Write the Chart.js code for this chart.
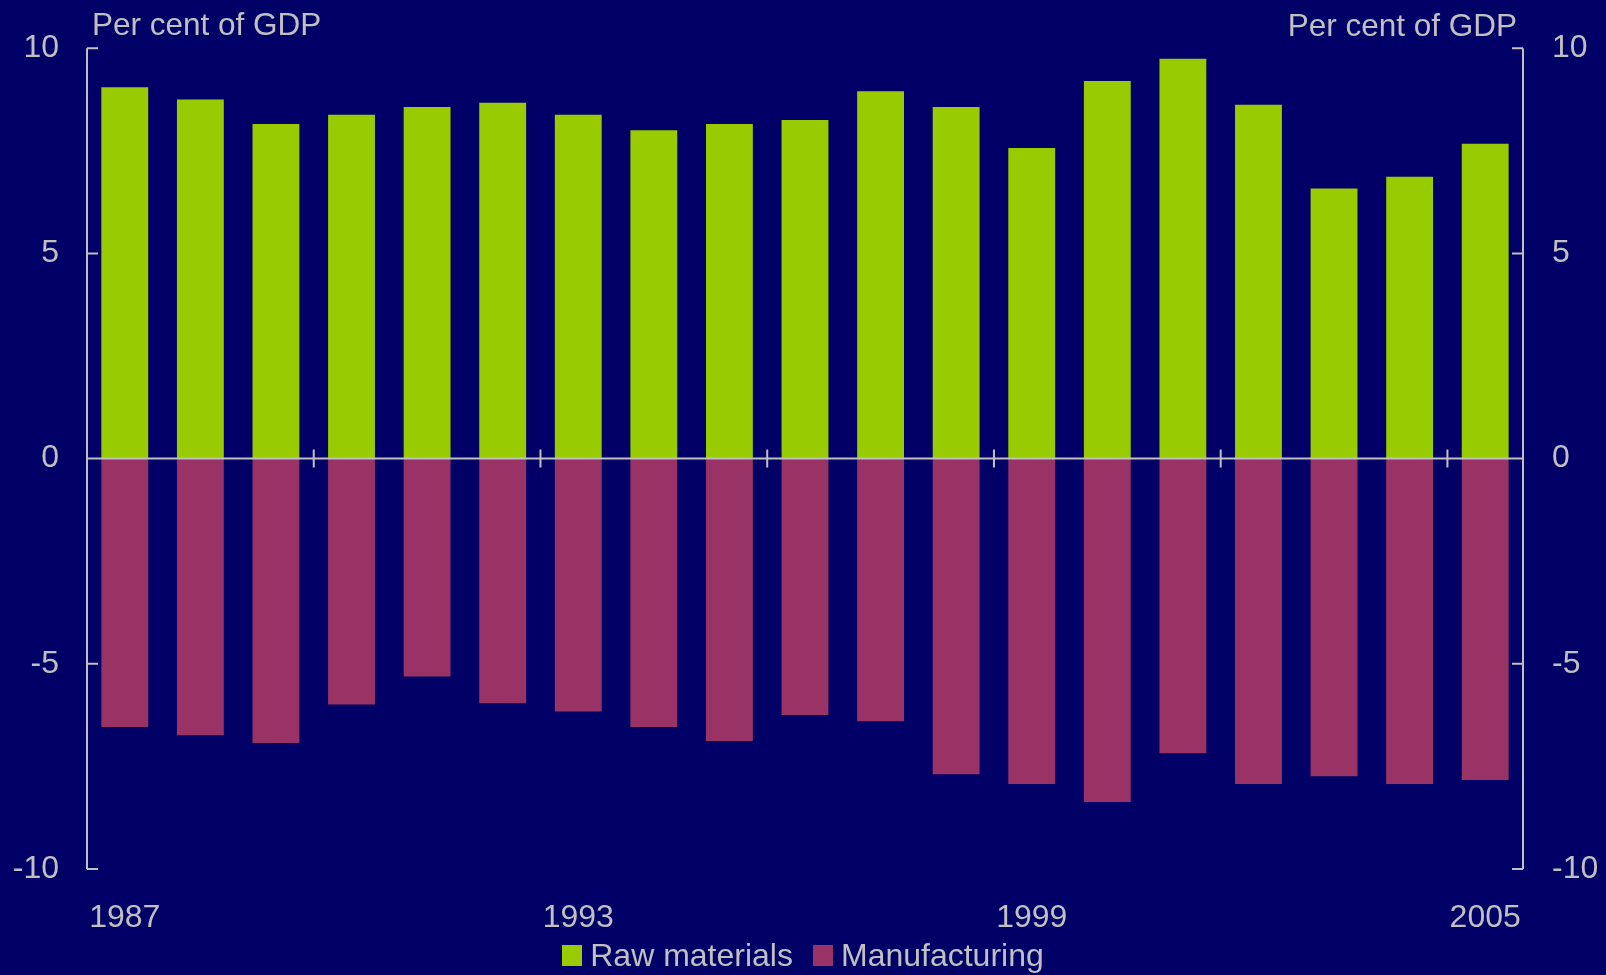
<!DOCTYPE html>
<html>
<head>
<meta charset="utf-8">
<title>Raw materials and manufacturing</title>
<script src="https://cdn.jsdelivr.net/npm/chart.js@4.4.0/dist/chart.umd.min.js"></script>
<style>
body{margin:0;background:#000066;}
#wrap{position:relative;width:1606px;height:975px;}
#legend{position:absolute;left:0;top:937px;width:1606px;height:36px;line-height:36px;display:flex;justify-content:center;
  font-family:'Liberation Sans',Arial,sans-serif;font-size:32px;color:#c0c0c0;}
.item{display:flex;align-items:center;margin:0 10px;}
.box{width:20px;height:21px;margin-right:8px;}
</style>
</head>
<body>
<div id="wrap">
<canvas id="myChart" width="1606" height="975"></canvas>
<div id="legend"></div>
</div>
<script>
var years = ['1987','1988','1989','1990','1991','1992','1993','1994','1995','1996',
             '1997','1998','1999','2000','2001','2002','2003','2004','2005'];
var rawMaterials = [9.05, 8.75, 8.15, 8.38, 8.57, 8.67, 8.38, 8.0, 8.15, 8.25,
                    8.95, 8.57, 7.57, 9.2, 9.74, 8.62, 6.58, 6.87, 7.67];
var manufacturing = [-6.54, -6.74, -6.93, -5.99, -5.31, -5.96, -6.16, -6.54, -6.88, -6.25,
                     -6.4, -7.69, -7.93, -8.37, -7.18, -7.93, -7.74, -7.93, -7.83];
var yTicks = [-10, -5, 0, 5, 10];
var shownYears = ['1987', '1993', '1999', '2005'];
var axisTitle = 'Per cent of GDP';

var textColor = '#c0c0c0';
var fontFamily = "'Liberation Sans', Arial, sans-serif";

Chart.defaults.font.family = fontFamily;
Chart.defaults.font.size = 32;
Chart.defaults.color = textColor;

// axis lines, inward ticks, zero line and the year markers on it
var axesPlugin = {
    id: 'axesPlugin',
    afterDatasetsDraw: function(chart){
        var ctx = chart.ctx;
        var area = chart.chartArea;
        var x = chart.scales.x;
        var y = chart.scales.y;
        var zero = y.getPixelForValue(0);
        ctx.save();
        ctx.strokeStyle = textColor;
        ctx.lineWidth = 2;
        ctx.beginPath();
        ctx.moveTo(area.left, area.top);
        ctx.lineTo(area.left, area.bottom);
        ctx.moveTo(area.right, area.top);
        ctx.lineTo(area.right, area.bottom);
        yTicks.forEach(function(v){
            var py = y.getPixelForValue(v);
            ctx.moveTo(area.left, py);
            ctx.lineTo(area.left + 11, py);
            ctx.moveTo(area.right, py);
            ctx.lineTo(area.right - 11, py);
        });
        ctx.moveTo(area.left, zero);
        ctx.lineTo(area.right, zero);
        for(var i = 3; i < years.length; i += 3){
            var px = (x.getPixelForValue(i - 1) + x.getPixelForValue(i)) / 2;
            ctx.moveTo(px, zero - 9);
            ctx.lineTo(px, zero + 9);
        }
        ctx.stroke();

        ctx.fillStyle = textColor;
        ctx.font = '31.5px ' + fontFamily;
        ctx.textBaseline = 'alphabetic';
        ctx.textAlign = 'left';
        ctx.fillText(axisTitle, area.left + 5, 35);
        ctx.textAlign = 'right';
        ctx.fillText(axisTitle, area.right - 6, 36);
        ctx.restore();
    }
};

var ctx = document.getElementById('myChart');
var chart = new Chart(ctx, {
    type: 'bar',
    data: {
        labels: years,
        datasets: [{
            label: 'Raw materials',
            data: rawMaterials,
            backgroundColor: '#99cc00'
        },{
            label: 'Manufacturing',
            data: manufacturing,
            backgroundColor: '#993366'
        }]
    },
    plugins: [axesPlugin],
    options: {
        responsive: false,
        animation: false,
        layout: { padding: { top: 45, left: 0, right: 0, bottom: 0 } },
        plugins: {
            legend: { display: false },
            tooltip: { enabled: false }
        },
        datasets: {
            bar: { barPercentage: 0.62, categoryPercentage: 1 }
        },
        scales: {
            x: {
                stacked: true,
                grid: { display: false, drawTicks: false },
                border: { display: false },
                ticks: {
                    autoSkip: false,
                    maxRotation: 0,
                    padding: 30,
                    callback: function(val, i){
                        var lbl = years[i];
                        return shownYears.indexOf(lbl) >= 0 ? lbl : '';
                    }
                },
                afterFit: function(scale){ scale.height = 106; }
            },
            y: {
                stacked: true,
                position: 'left',
                min: -10,
                max: 10,
                grid: { display: false, drawTicks: false },
                border: { display: false },
                ticks: { stepSize: 5, padding: 28 },
                afterFit: function(scale){ scale.width = 87; }
            },
            y2: {
                position: 'right',
                min: -10,
                max: 10,
                grid: { display: false, drawTicks: false },
                border: { display: false },
                ticks: { stepSize: 5, padding: 29 },
                afterFit: function(scale){ scale.width = 83; }
            }
        }
    }
});

// legend under the axis
var legend = document.getElementById('legend');
chart.data.datasets.forEach(function(ds){
    var html = '<div class="item">';
    html += '<span class="box" style="background:' + ds.backgroundColor + '"></span>';
    html += '<span>' + ds.label + '</span>';
    html += '</div>';
    legend.insertAdjacentHTML('beforeend', html);
});
</script>
</body>
</html>
